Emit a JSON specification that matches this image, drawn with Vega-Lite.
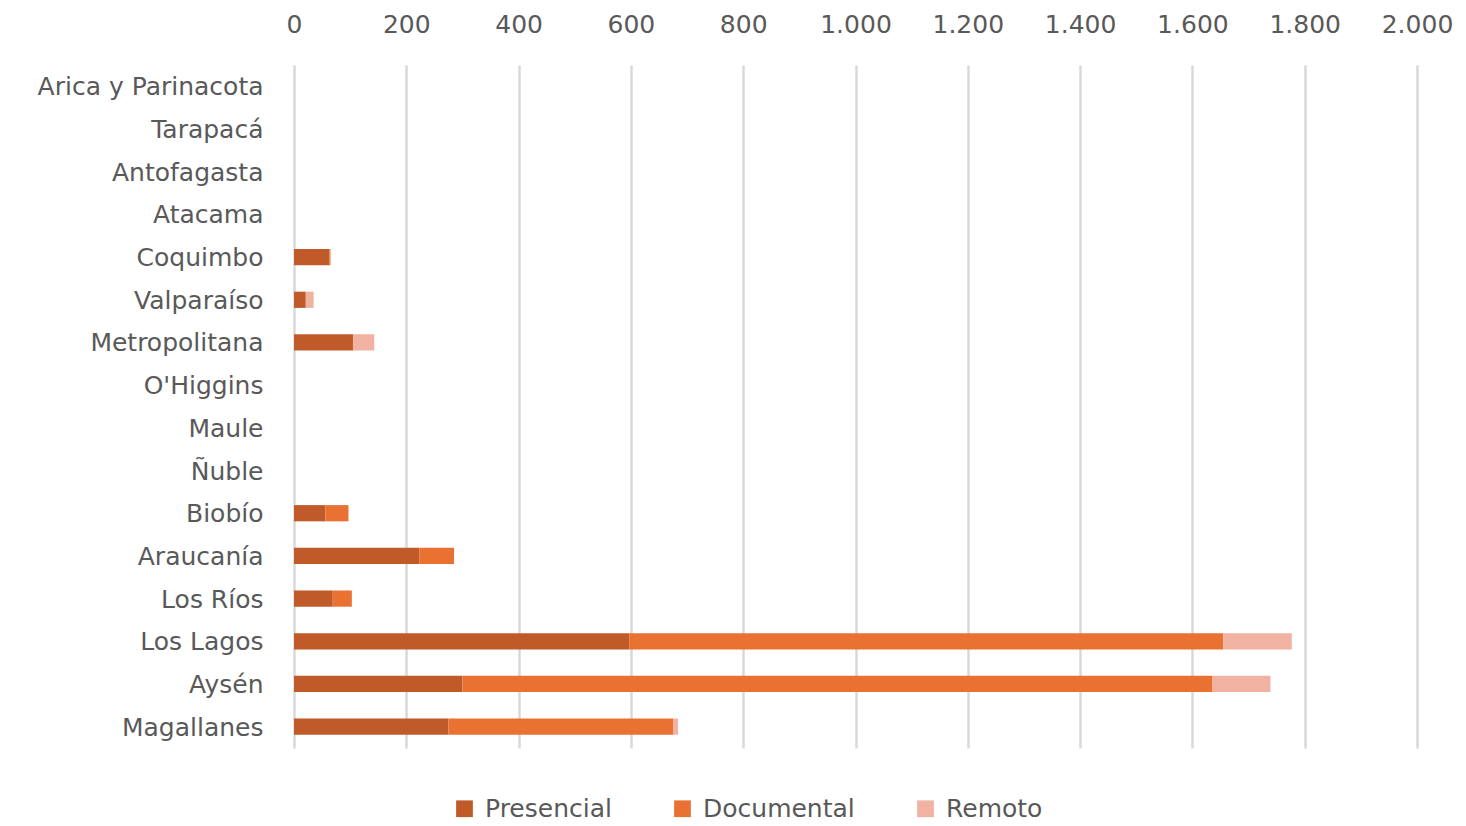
{
  "$schema": "https://vega.github.io/schema/vega-lite/v6.json",
  "autosize": {"type": "none"},
  "padding": {"left": 294, "top": 65, "right": 49, "bottom": 78},
  "width": 1123,
  "height": 683,
  "background": "white",
  "data": {
    "values": [
      {"region": "Coquimbo", "tipo": "Presencial", "orden": 1, "valor": 63},
      {"region": "Coquimbo", "tipo": "Documental", "orden": 2, "valor": 2},
      {"region": "Valparaíso", "tipo": "Presencial", "orden": 1, "valor": 21},
      {"region": "Valparaíso", "tipo": "Remoto", "orden": 3, "valor": 14},
      {"region": "Metropolitana", "tipo": "Presencial", "orden": 1, "valor": 105},
      {"region": "Metropolitana", "tipo": "Documental", "orden": 2, "valor": 1},
      {"region": "Metropolitana", "tipo": "Remoto", "orden": 3, "valor": 37},
      {"region": "Biobío", "tipo": "Presencial", "orden": 1, "valor": 56},
      {"region": "Biobío", "tipo": "Documental", "orden": 2, "valor": 41},
      {"region": "Araucanía", "tipo": "Presencial", "orden": 1, "valor": 223},
      {"region": "Araucanía", "tipo": "Documental", "orden": 2, "valor": 62},
      {"region": "Los Ríos", "tipo": "Presencial", "orden": 1, "valor": 69},
      {"region": "Los Ríos", "tipo": "Documental", "orden": 2, "valor": 34},
      {"region": "Los Lagos", "tipo": "Presencial", "orden": 1, "valor": 597},
      {"region": "Los Lagos", "tipo": "Documental", "orden": 2, "valor": 1058},
      {"region": "Los Lagos", "tipo": "Remoto", "orden": 3, "valor": 122},
      {"region": "Aysén", "tipo": "Presencial", "orden": 1, "valor": 300},
      {"region": "Aysén", "tipo": "Documental", "orden": 2, "valor": 1335},
      {"region": "Aysén", "tipo": "Remoto", "orden": 3, "valor": 104},
      {"region": "Magallanes", "tipo": "Presencial", "orden": 1, "valor": 275},
      {"region": "Magallanes", "tipo": "Documental", "orden": 2, "valor": 400},
      {"region": "Magallanes", "tipo": "Remoto", "orden": 3, "valor": 9}
    ]
  },
  "mark": {"type": "bar"},
  "encoding": {
    "y": {
      "field": "region",
      "type": "nominal",
      "sort": null,
      "scale": {
        "domain": ["Arica y Parinacota", "Tarapacá", "Antofagasta", "Atacama", "Coquimbo", "Valparaíso", "Metropolitana", "O'Higgins", "Maule", "Ñuble", "Biobío", "Araucanía", "Los Ríos", "Los Lagos", "Aysén", "Magallanes"],
        "paddingInner": 0.62,
        "paddingOuter": 0.31
      },
      "axis": {
        "title": null,
        "domain": false,
        "ticks": false,
        "grid": false,
        "labelPadding": 31,
        "labelLimit": 0,
        "labelFontSize": 25,
        "labelFont": "DejaVu Sans",
        "labelColor": "#595959",
        "labelOffset": 1
      }
    },
    "x": {
      "field": "valor",
      "type": "quantitative",
      "aggregate": "sum",
      "stack": "zero",
      "scale": {"domain": [0, 2000], "nice": false},
      "axis": {
        "orient": "top",
        "title": null,
        "domain": false,
        "ticks": false,
        "values": [0, 200, 400, 600, 800, 1000, 1200, 1400, 1600, 1800, 2000],
        "labelExpr": "replace(format(datum.value, ','), ',', '.')",
        "labelFlush": false,
        "labelOverlap": false,
        "labelBound": false,
        "labelPadding": 28,
        "labelFontSize": 25,
        "labelFont": "DejaVu Sans",
        "labelColor": "#595959",
        "grid": true,
        "gridColor": "#d9d9d9",
        "gridWidth": 2.5
      }
    },
    "color": {
      "field": "tipo",
      "type": "nominal",
      "scale": {
        "domain": ["Presencial", "Documental", "Remoto"],
        "range": ["#C05A28", "#E97132", "#F1B2A2"]
      },
      "legend": {
        "title": null,
        "orient": "none",
        "direction": "horizontal",
        "legendX": 158,
        "legendY": 731,
        "symbolType": "square",
        "symbolSize": 280,
        "symbolStrokeWidth": 0,
        "labelFontSize": 25,
        "labelFont": "DejaVu Sans",
        "labelColor": "#595959",
        "labelLimit": 0,
        "columnPadding": 58,
        "labelOffset": 8
      }
    },
    "order": {"field": "orden", "type": "quantitative"}
  },
  "config": {"view": {"stroke": null}}
}
